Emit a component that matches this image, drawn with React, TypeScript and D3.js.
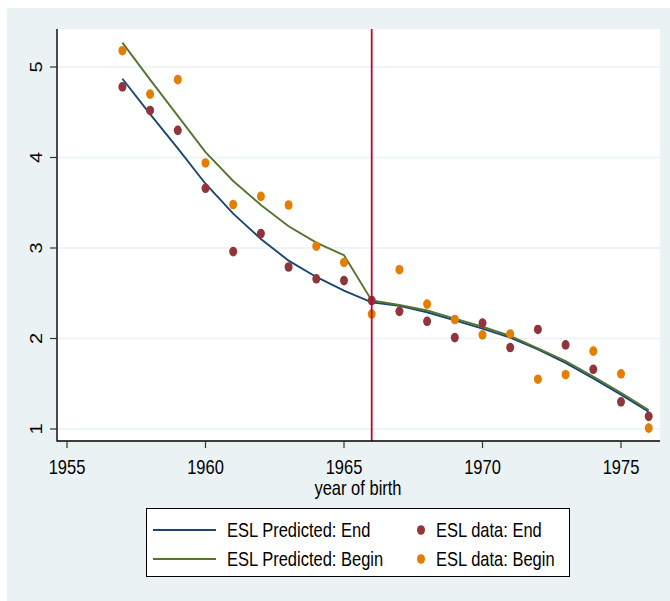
import React from "react";
import * as d3 from "d3";

const years = [
  1957, 1958, 1959, 1960, 1961, 1962, 1963, 1964, 1965, 1966, 1967, 1968,
  1969, 1970, 1971, 1972, 1973, 1974, 1975, 1976,
];
const dataEnd = [
  4.78, 4.52, 4.3, 3.66, 2.96, 3.16, 2.79, 2.66, 2.64, 2.42, 2.3, 2.19, 2.01,
  2.17, 1.9, 2.1, 1.93, 1.66, 1.3, 1.14,
];
const dataBegin = [
  5.18, 4.7, 4.86, 3.94, 3.48, 3.57, 3.475, 3.02, 2.84, 2.27, 2.76, 2.38, 2.21,
  2.04, 2.05, 1.55, 1.6, 1.86, 1.61, 1.01,
];
const predEnd = [
  4.87, 4.48, 4.1, 3.71, 3.38, 3.1, 2.86, 2.68, 2.53, 2.4, 2.36, 2.29, 2.2,
  2.11, 2.01, 1.88, 1.73, 1.56, 1.38, 1.19,
];
const predBegin = [
  5.27, 4.86, 4.46, 4.06, 3.74, 3.475, 3.24, 3.06, 2.92, 2.42, 2.37, 2.31,
  2.22, 2.13, 2.03, 1.89, 1.75, 1.58, 1.4, 1.21,
];
const xTicks = [1955, 1960, 1965, 1970, 1975];
const yTicks = [1, 2, 3, 4, 5];
const cutYear = 1966;

const legendItems = [
  { label: "ESL Predicted: End", kind: "line", color: "#1a476f" },
  { label: "ESL data: End", kind: "dot", color: "#90353b" },
  { label: "ESL Predicted: Begin", kind: "line", color: "#55752f" },
  { label: "ESL data: Begin", kind: "dot", color: "#e37e00" },
];

const font = "'Liberation Sans', Arial, sans-serif";
const squash = 0.825;

const T = ({ x, y, children, anchor = "middle", rotate = 0, size = 20 }) => (
  <text
    transform={`translate(${x},${y}) scale(${squash},1) rotate(${rotate})`}
    textAnchor={anchor}
    fontFamily={font}
    fontSize={size}
    fill="#000"
  >
    {children}
  </text>
);

export default function App() {
  const W = 670,
    H = 601;
  const plot = { left: 57, right: 660, top: 29, bottom: 441 };

  const x = d3.scaleLinear().domain([1955, 1975]).range([67, 621]);
  const y = d3.scaleLinear().domain([1, 5]).range([429, 67]);

  const line = (vals) =>
    d3
      .line()
      .x((d, i) => x(years[i]))
      .y((d) => y(d))(vals);

  const dots = (vals, color) =>
    vals.map((v, i) => (
      <ellipse key={i} cx={x(years[i])} cy={y(v)} rx={4} ry={4.8} fill={color} />
    ));

  return (
    <svg
      width={W}
      height={H}
      style={{ position: "absolute", left: 0, top: 0 }}
    >
      <rect x={7} y={8} width={W - 7} height={H - 8} fill="#eaf2f3" />
      <rect
        x={plot.left}
        y={plot.top}
        width={plot.right - plot.left}
        height={plot.bottom - plot.top}
        fill="#fff"
      />
      {yTicks.map((t) => (
        <line
          key={t}
          x1={plot.left}
          x2={plot.right}
          y1={y(t)}
          y2={y(t)}
          stroke="#eaf2f3"
          strokeWidth={1.6}
        />
      ))}

      <path d={line(predEnd)} fill="none" stroke="#1a476f" strokeWidth={1.9} />
      <path d={line(predBegin)} fill="none" stroke="#55752f" strokeWidth={1.9} />
      {dots(dataEnd, "#90353b")}
      {dots(dataBegin, "#e37e00")}
      <line
        x1={x(cutYear)}
        x2={x(cutYear)}
        y1={plot.top}
        y2={plot.bottom}
        stroke="#c10534"
        strokeWidth={1.8}
      />

      {/* axes */}
      <line x1={plot.left} x2={plot.left} y1={plot.top} y2={plot.bottom + 0.5} stroke="#000" strokeWidth={1.4} />
      <line x1={plot.left} x2={plot.right} y1={plot.bottom} y2={plot.bottom} stroke="#000" strokeWidth={1.4} />
      {yTicks.map((t) => (
        <g key={t}>
          <line x1={plot.left - 7} x2={plot.left} y1={y(t)} y2={y(t)} stroke="#333" strokeWidth={1.2} />
          <T x={42} y={y(t)} rotate={-90}>
            {t}
          </T>
        </g>
      ))}
      {xTicks.map((t) => (
        <g key={t}>
          <line x1={x(t)} x2={x(t)} y1={plot.bottom} y2={plot.bottom + 7} stroke="#333" strokeWidth={1.2} />
          <T x={x(t)} y={474}>
            {t}
          </T>
        </g>
      ))}
      <T x={358} y={495}>
        year of birth
      </T>

      {/* legend */}
      <rect x={146.5} y={508.5} width={423} height={68} fill="#fff" stroke="#000" strokeWidth={1} />
      {legendItems.map((d, i) => {
        const row = Math.floor(i / 2);
        const cy = 530 + row * 29;
        if (d.kind === "line") {
          return (
            <g key={i}>
              <line x1={153} x2={216} y1={cy} y2={cy} stroke={d.color} strokeWidth={2} />
              <T x={227} y={cy + 7} anchor="start">
                {d.label}
              </T>
            </g>
          );
        }
        return (
          <g key={i}>
            <ellipse cx={421} cy={cy} rx={4} ry={4.8} fill={d.color} />
            <T x={436} y={cy + 7} anchor="start">
              {d.label}
            </T>
          </g>
        );
      })}
    </svg>
  );
}
